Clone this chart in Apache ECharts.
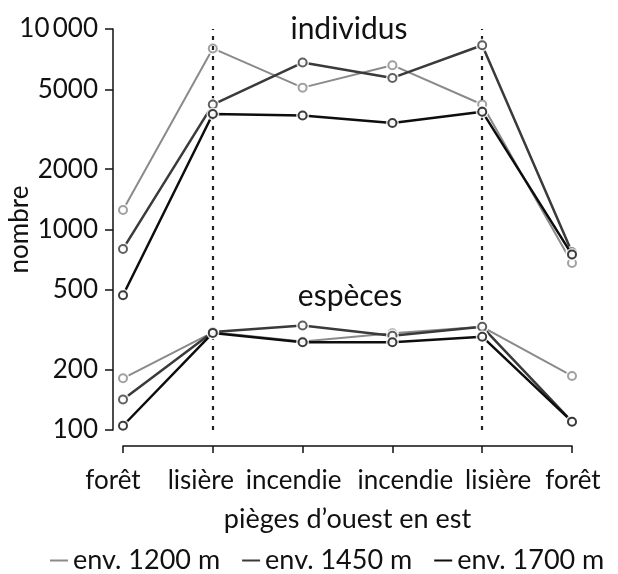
<!DOCTYPE html>
<html><head><meta charset="utf-8">
<script src="https://cdn.jsdelivr.net/npm/echarts@6/dist/echarts.min.js"></script>
<style>html,body{margin:0;padding:0;background:#fff}#c{width:618px;height:574px}</style>
</head><body><div id="c"></div>
<script>
const categories = ['forêt', 'lisière', 'incendie', 'incendie', 'lisière', 'forêt'];
const seriesNames = ['env. 1200 m', 'env. 1450 m', 'env. 1700 m'];
const individus1200 = [1250, 8000, 5100, 6600, 4200, 680];
const individus1450 = [800, 4200, 6800, 5700, 8300, 770];
const individus1700 = [470, 3770, 3700, 3400, 3870, 750];
const especes1200 = [181, 307, 276, 304, 327, 186];
const especes1450 = [142, 308, 332, 295, 327, 110];
const especes1700 = [105, 305, 274, 274, 292, 110];
const yTicks = [100, 200, 500, 1000, 2000, 5000, 10000];
const lisiereIdx = [1, 4];
const panelLabels = ['individus', 'espèces'];
const xTitle = 'pièges d\u2019ouest en est';
const yTitle = 'nombre';

const FONT = 'Lato';
const colors = ['#8a8a8a', '#3a3a3a', '#0d0d0d'];
const widths = [2, 2.5, 2.5];
const labelShift = [-10, -12, -9, 13, 16, 1];

const groups = [
  [individus1200, 0], [individus1450, 1], [individus1700, 2],
  [especes1200, 0], [especes1450, 1], [especes1700, 2]
];
const series = [];
groups.forEach(([data, s], gi) => {
  const c = colors[s];
  const line = {
    type: 'line', name: seriesNames[s], data: data, symbol: 'none', showSymbol: false,
    lineStyle: {color: c, width: widths[s]}, itemStyle: {color: c},
    z: 2 + gi * 3, silent: true
  };
  if (gi === 0) {
    line.markLine = {
      symbol: 'none', silent: true, label: {show: false},
      lineStyle: {type: [4, 6], color: '#222', width: 2.2},
      data: lisiereIdx.map(i => ({xAxis: i}))
    };
  }
  series.push(line);
  series.push({type: 'scatter', name: '_gap', data: data, symbol: 'circle', symbolSize: 13,
    itemStyle: {color: '#fff'}, z: 3 + gi * 3, silent: true});
  series.push({type: 'scatter', name: '_pt', data: data, symbol: 'circle', symbolSize: 8,
    itemStyle: {color: '#fff', borderColor: c, borderWidth: 2}, z: 4 + gi * 3, silent: true});
});

const rich = {};
labelShift.forEach((d, i) => {
  rich['l' + i] = {fontFamily: FONT, fontSize: 26, color: '#111',
    padding: d < 0 ? [0, -2 * d, 0, 0] : [0, 0, 0, 2 * d]};
});

const chart = echarts.init(document.getElementById('c'), null, {renderer: 'canvas'});
chart.setOption({
  animation: false,
  backgroundColor: '#fff',
  textStyle: {fontFamily: FONT},
  grid: {left: 123, right: 46, top: 29, bottom: 144, outerBoundsMode: 'none', containLabel: false},
  xAxis: {
    type: 'category', data: categories, boundaryGap: false, offset: 16,
    axisLine: {lineStyle: {color: '#111', width: 1.5}},
    axisTick: {show: true, inside: false, length: 7, alignWithLabel: true, interval: 0, lineStyle: {color: '#111', width: 1.5}},
    axisLabel: {interval: 0, margin: 22, color: '#111', fontSize: 26, fontFamily: FONT,
      formatter: (v, i) => '{l' + i + '|' + v + '}', rich: rich},
    splitLine: {show: false},
    name: xTitle, nameLocation: 'middle', nameGap: 60, nameMoveOverlap: false,
    nameTextStyle: {fontFamily: FONT, fontSize: 27, color: '#111'}
  },
  yAxis: {
    type: 'log', logBase: 10, min: 100, max: 10000, offset: 10,
    axisLine: {show: true, lineStyle: {color: '#111', width: 1.5}},
    axisTick: {show: true, inside: false, length: 8, customValues: yTicks, lineStyle: {color: '#111', width: 1.5}},
    axisLabel: {margin: 15, color: '#111', fontSize: 26, fontFamily: FONT, customValues: yTicks,
      formatter: v => (v === 10000 ? '10\u2009000' : String(v))},
    splitLine: {show: false},
    name: yTitle, nameLocation: 'middle', nameGap: 80, nameRotate: 90, nameMoveOverlap: false,
    nameTextStyle: {fontFamily: FONT, fontSize: 26, color: '#111'}
  },
  legend: {
    data: seriesNames, left: 45, top: 542, icon: 'rect', itemWidth: 18, itemHeight: 2,
    itemGap: 22, textStyle: {fontFamily: FONT, fontSize: 27, color: '#111'}, selectedMode: false
  },
  graphic: [
    {type: 'text', x: 349, y: 29, style: {text: panelLabels[0], fontFamily: FONT, fontSize: 30, fill: '#111', align: 'center', verticalAlign: 'middle'}},
    {type: 'text', x: 350, y: 296, style: {text: panelLabels[1], fontFamily: FONT, fontSize: 30, fill: '#111', align: 'center', verticalAlign: 'middle'}}
  ],
  series: series
});
</script></body></html>
